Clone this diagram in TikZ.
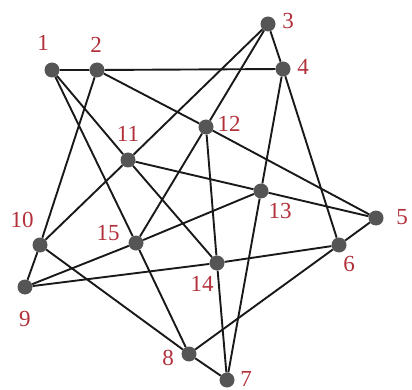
\documentclass[tikz,border=0pt]{standalone}
\usepackage{fontspec}
\setmainfont{Liberation Serif}
\usepackage{tikz}
\usetikzlibrary{positioning}
\usepackage{xcolor}
\definecolor{vtxgray}{RGB}{85,85,85}
\definecolor{numred}{RGB}{178,48,58}

\begin{document}
\begin{tikzpicture}[x=1pt,y=-1pt,
  vertex/.style={circle,fill=vtxgray,inner sep=0pt,minimum size=15pt},
  num/.style={text=numred,font=\fontsize{23}{23}\selectfont,inner sep=0pt},
  edge/.style={line width=1.9pt,black!90}]
  \useasboundingbox (0,0) rectangle (412,390);
  % vertices
  \node[vertex] (n1) at (52,70) {};
  \node[vertex] (n2) at (97,70) {};
  \node[vertex] (n3) at (268,24) {};
  \node[vertex] (n4) at (283,69) {};
  \node[vertex] (n5) at (376,218) {};
  \node[vertex] (n6) at (339,245) {};
  \node[vertex] (n7) at (227,380) {};
  \node[vertex] (n8) at (189,354) {};
  \node[vertex] (n9) at (25,287) {};
  \node[vertex] (n10) at (40,245) {};
  \node[vertex] (n11) at (128,160) {};
  \node[vertex] (n12) at (206,127) {};
  \node[vertex] (n13) at (261,191) {};
  \node[vertex] (n14) at (217,263) {};
  \node[vertex] (n15) at (136,243) {};
  % numbers
  \node[num] (t1) at (43,43) {1};
  \node[num] (t2) at (96,45) {2};
  \node[num] (t3) at (288,21) {3};
  \node[num] (t4) at (303,67) {4};
  \node[num] (t5) at (402,217) {5};
  \node[num] (t6) at (349,264) {6};
  \node[num] (t7) at (246,379) {7};
  \node[num] (t8) at (168,358) {8};
  \node[num] (t9) at (25,319) {9};
  \node[num] (t10) at (22,220) {10};
  \node[num] (t11) at (128,134) {11};
  \node[num] (t12) at (229,124) {12};
  \node[num] (t13) at (280,211) {13};
  \node[num] (t14) at (202,284) {14};
  \node[num] (t15) at (108,233) {15};
  % edges
  \draw[edge] (n1) -- (n2) -- (n4);
  \draw[edge] (n2) -- (n12) -- (n5);
  \draw[edge] (n1) -- (n11) -- (n14);
  \draw[edge] (n1) -- (n15) -- (n8);
  \draw[edge] (n3) -- (n11) -- (n10);
  \draw[edge] (n3) -- (n12) -- (n15);
  \draw[edge] (n3) -- (n4);
  \draw[edge] (n4) -- (n13) -- (n7);
  \draw[edge] (n4) -- (n6);
  \draw[edge] (n12) -- (n14) -- (n7);
  \draw[edge] (n11) -- (n13) -- (n5);
  \draw[edge] (n13) -- (n15) -- (n9);
  \draw[edge] (n6) -- (n14) -- (n9);
  \draw[edge] (n6) -- (n5);
  \draw[edge] (n6) -- (n8) -- (n7);
  \draw[edge] (n10) -- (n8);
  \draw[edge] (n10) -- (n9);
  \draw[edge] (n2) -- (n10);
\end{tikzpicture}
\end{document}
